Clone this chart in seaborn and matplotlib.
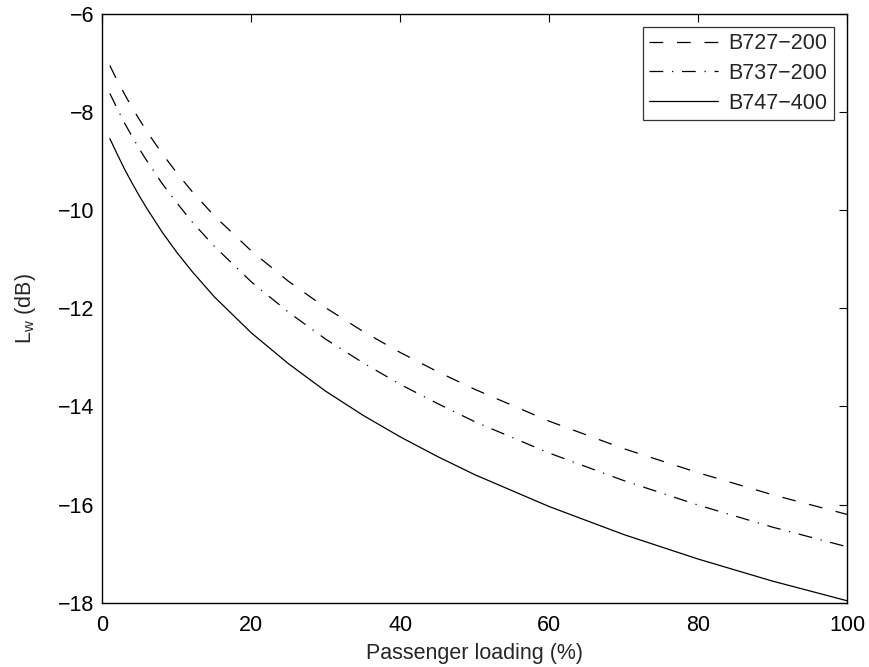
import matplotlib
matplotlib.use("Agg")
import matplotlib.pyplot as plt
import seaborn as sns
import pandas as pd

# Data
loading = [1, 2, 3, 4, 5, 6, 8, 10, 12, 15, 20, 25, 30, 35, 40, 45, 50, 60, 70, 80, 90, 100]
b727_200 = [-7.05, -7.36, -7.64, -7.91, -8.16, -8.40, -8.84, -9.24, -9.61, -10.11, -10.83,
            -11.45, -11.99, -12.47, -12.90, -13.29, -13.65, -14.30, -14.86, -15.35, -15.80, -16.20]
b737_200 = [-7.62, -7.93, -8.23, -8.50, -8.76, -9.00, -9.45, -9.85, -10.23, -10.73, -11.46,
            -12.08, -12.63, -13.11, -13.55, -13.94, -14.31, -14.95, -15.51, -16.01, -16.46, -16.86]
b747_400 = [-8.54, -8.86, -9.17, -9.45, -9.72, -9.97, -10.44, -10.86, -11.24, -11.76, -12.50,
            -13.13, -13.69, -14.18, -14.62, -15.02, -15.39, -16.04, -16.61, -17.11, -17.56, -17.96]
series_names = ["B727\u2212200", "B737\u2212200", "B747\u2212400"]
x_ticks = [0, 20, 40, 60, 80, 100]
y_ticks = [-18, -16, -14, -12, -10, -8, -6]

rows = []
for name, vals in zip(series_names, [b727_200, b737_200, b747_400]):
    for xv, yv in zip(loading, vals):
        rows.append({"loading": xv, "Lw": yv, "aircraft": name})
df = pd.DataFrame(rows)

sns.set_style("white")
plt.rcParams["font.family"] = ["Liberation Sans", "DejaVu Sans"]
plt.rcParams["mathtext.fontset"] = "custom"
plt.rcParams["mathtext.rm"] = "Liberation Sans"
plt.rcParams["mathtext.it"] = "Liberation Sans"

FS = 15.5

fig = plt.figure(figsize=(8.7, 6.67), dpi=100)
ax = fig.add_axes([0.1177, 0.0964, 0.9736 - 0.1177, 0.979 - 0.0964])

lw = 0.9
dashes = {series_names[0]: (11, 11), series_names[1]: (11, 7, 1, 7), series_names[2]: ""}
sns.lineplot(data=df, x="loading", y="Lw", style="aircraft", dashes=dashes,
             style_order=series_names, color="black", linewidth=lw, ax=ax,
             estimator=None, sort=True)

ax.set_xlim(0, 100)
ax.set_ylim(-18, -6)
ax.set_xticks(x_ticks)
ax.set_yticks(y_ticks)
ax.set_xticklabels([str(t) for t in x_ticks])
ax.set_yticklabels([str(t).replace("-", "\u2212") for t in y_ticks])
ax.tick_params(axis="both", direction="in", length=6, width=0.8, top=True, right=True,
               labelsize=FS, colors="black")
ax.tick_params(axis="x", pad=9)
ax.tick_params(axis="y", pad=6)
for s in ax.spines.values():
    s.set_linewidth(1.0)
    s.set_color("black")
    s.set_visible(True)

ax.set_xlabel("Passenger loading (%)", fontsize=FS, labelpad=5)
ax.set_ylabel(r"L$_{\mathrm{w}}$ (dB)", fontsize=FS, labelpad=14)

leg = ax.legend(loc="upper right", fontsize=FS, frameon=True, fancybox=False,
                edgecolor="black", handlelength=3.2, handletextpad=0.5,
                borderaxespad=0.6, labelspacing=0.4, borderpad=0.3)
leg.get_frame().set_linewidth(0.9)
leg.set_title(None)

fig.savefig("out.png", dpi=100)
